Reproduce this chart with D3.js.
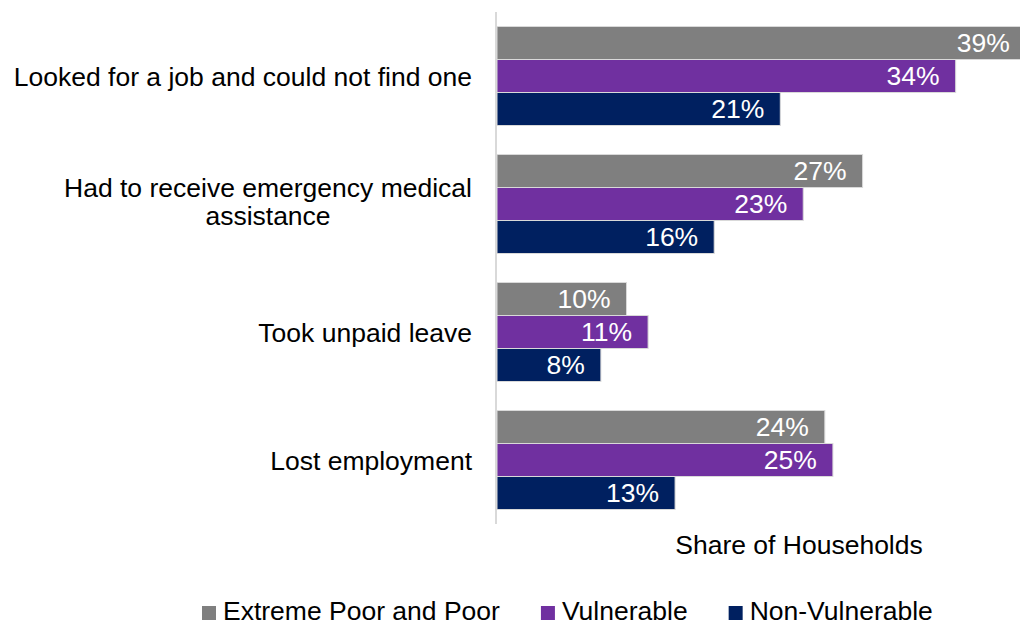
<!DOCTYPE html>
<html>
<head>
<meta charset="utf-8">
<script src="https://cdn.jsdelivr.net/npm/d3@7"></script>
<style>
  body { margin: 0; background: #fff; }
  svg { display: block; font-family: "Liberation Sans", Arial, sans-serif; }
</style>
</head>
<body>
<svg id="chart" width="1020" height="626"></svg>
<script>
// categories top to bottom, label lines
var categories = [
    ["Looked for a job and could not find one"],
    ["Had to receive emergency medical", "assistance"],
    ["Took unpaid leave"],
    ["Lost employment"]
];
var seriesNames = ["Extreme Poor and Poor", "Vulnerable", "Non-Vulnerable"];
var seriesColors = ["#7f7f7f", "#7030a0", "#002060"];

// values in percent, one per category
var extremePoor = [39.2, 27.1, 9.6, 24.3];
var vulnerable = [34.0, 22.7, 11.2, 24.9];
var nonVulnerable = [21.0, 16.1, 7.7, 13.2];
var valueLabels = [
    ["39%", "27%", "10%", "24%"],
    ["34%", "23%", "11%", "25%"],
    ["21%", "16%", "8%", "13%"]
];
var series = [extremePoor, vulnerable, nonVulnerable];

var svg = d3.select("#chart");
var fontSize = 26.5;

var x = d3.scaleLinear().domain([0, 40]).range([497, 497 + 13.49 * 40]);
var y = d3.scaleBand()
    .domain(d3.range(categories.length))
    .range([12, 524])
    .paddingInner(0.2266)
    .paddingOuter(0.1133);
var ySub = d3.scaleBand()
    .domain(d3.range(series.length))
    .range([0, y.bandwidth()]);

// bars
var groups = svg.selectAll(".group")
    .data(categories)
    .enter()
    .append("g")
    .attr("class", "group")
    .attr("transform", function(d, i) { return "translate(0," + y(i) + ")"; });

groups.each(function(cat, ci) {
    var g = d3.select(this);
    series.forEach(function(vals, si) {
        g.append("rect")
            .attr("x", x(0))
            .attr("y", ySub(si))
            .attr("width", x(vals[ci]) - x(0))
            .attr("height", ySub.bandwidth())
            .attr("fill", seriesColors[si])
            .attr("stroke", "#d9d9d9")
            .attr("stroke-width", 1);
        g.append("text")
            .attr("x", x(vals[ci]) - 16)
            .attr("y", ySub(si) + ySub.bandwidth() / 2)
            .attr("dy", "0.35em")
            .attr("text-anchor", "end")
            .attr("font-size", fontSize)
            .attr("fill", "#ffffff")
            .text(valueLabels[si][ci]);
    });
});

// vertical axis line
svg.append("line")
    .attr("x1", 496).attr("x2", 496)
    .attr("y1", 12).attr("y2", 524)
    .attr("stroke", "#d9d9d9")
    .attr("stroke-width", 2);

// category labels (right aligned block, lines centered within block)
var lineH = 28.3;
categories.forEach(function(lines, ci) {
    var cy = y(ci) + y.bandwidth() / 2;
    var t = svg.append("text")
        .attr("font-size", fontSize)
        .attr("fill", "#000");
    var spans = lines.map(function(line, li) {
        return t.append("tspan")
            .attr("y", cy + 9.5 + (li - (lines.length - 1) / 2) * lineH - (lines.length > 1 ? 2.5 : 0))
            .text(line);
    });
    var maxW = d3.max(spans, function(s) { return s.node().getComputedTextLength(); });
    var mid = 472 - maxW / 2;
    spans.forEach(function(s) {
        s.attr("x", mid).attr("text-anchor", "middle");
    });
});

// axis title
svg.append("text")
    .attr("x", 799)
    .attr("y", 554)
    .attr("text-anchor", "middle")
    .attr("font-size", fontSize)
    .attr("fill", "#000")
    .text("Share of Households");

// legend
var lx = 202;
seriesNames.forEach(function(name, i) {
    svg.append("rect")
        .attr("x", lx).attr("y", 606)
        .attr("width", 14).attr("height", 14)
        .attr("fill", seriesColors[i]);
    var t = svg.append("text")
        .attr("x", lx + 21)
        .attr("y", 619.5)
        .attr("font-size", fontSize)
        .attr("fill", "#000")
        .text(name);
    lx += 21 + t.node().getComputedTextLength() + 41;
});
</script>
</body>
</html>
